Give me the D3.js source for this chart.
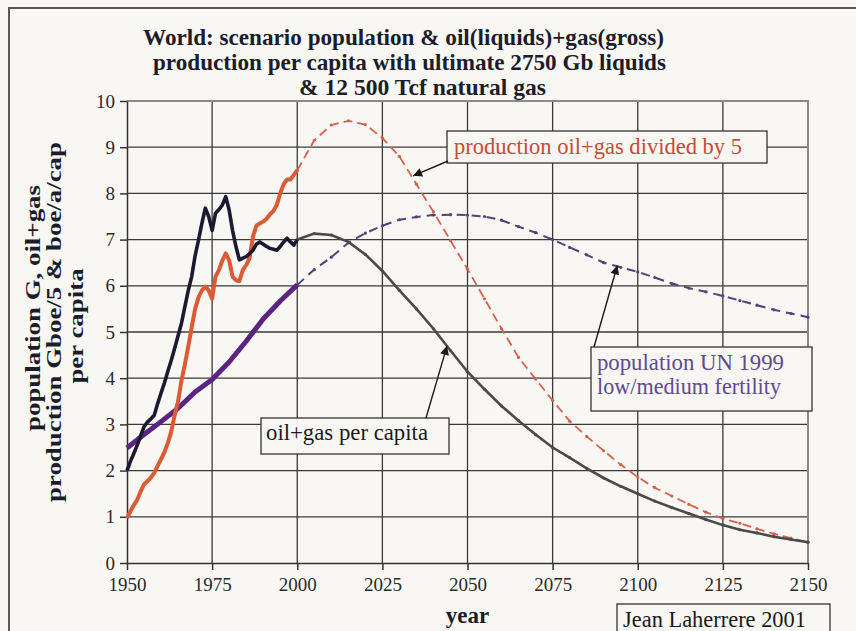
<!DOCTYPE html>
<html>
<head>
<meta charset="utf-8">
<script src="https://cdn.jsdelivr.net/npm/d3@7"></script>
<style>
  html, body { margin: 0; padding: 0; background: #f8f6f3; }
  svg { display: block; }
  text { font-family: "Liberation Serif", "Times New Roman", serif; }
  .grid line { stroke: #3a3a3a; stroke-width: 1.3; }
  .axis path, .axis line { stroke: #333; stroke-width: 1.5; }
  .axis text { fill: #2a2a2a; font-size: 19px; }
  .title { font-weight: bold; font-size: 24px; fill: #1c1c2a; }
  .ylabel { font-weight: bold; font-size: 22px; fill: #1c1c2a; }
  .note { font-size: 23px; }
  .box { fill: #f8f6f3; stroke: #333; stroke-width: 1.3; }
</style>
</head>
<body>
<div id="chart"></div>
<script>
// ---- data ----
const xTicks = [1950, 1975, 2000, 2025, 2050, 2075, 2100, 2125, 2150];
const yTicks = [0, 1, 2, 3, 4, 5, 6, 7, 8, 9, 10];

const histYears = d3.range(1950, 2001);
// oil+gas per capita (boe/a/cap), 1950-2000
const perCapitaHist = [2.0, 2.2, 2.37, 2.55, 2.75, 2.95, 3.05, 3.12, 3.2, 3.45,
  3.68, 3.9, 4.15, 4.39, 4.65, 4.92, 5.19, 5.55, 5.9, 6.2,
  6.65, 6.99, 7.35, 7.68, 7.5, 7.2, 7.57, 7.65, 7.75, 7.93,
  7.64, 7.2, 6.85, 6.56, 6.6, 6.63, 6.7, 6.77, 6.9, 6.95,
  6.9, 6.85, 6.81, 6.79, 6.77, 6.85, 6.95, 7.03, 6.95, 6.88, 7.0];
// production oil+gas / 5 (Gboe), 1950-2000
const productionHist = [0.97, 1.12, 1.25, 1.37, 1.55, 1.7, 1.77, 1.85, 1.95, 2.1,
  2.25, 2.4, 2.6, 2.85, 3.2, 3.5, 3.95, 4.3, 4.69, 5.1,
  5.5, 5.75, 5.9, 5.98, 5.9, 5.72, 6.2, 6.34, 6.55, 6.7,
  6.55, 6.2, 6.12, 6.1, 6.34, 6.45, 6.6, 7.07, 7.3, 7.35,
  7.39, 7.45, 7.55, 7.62, 7.75, 8.0, 8.2, 8.3, 8.3, 8.4, 8.5];
const popYears = [1950, 1955, 1960, 1965, 1970, 1975, 1980, 1985, 1990, 1995, 2000];
const populationHist = [2.49, 2.78, 3.06, 3.35, 3.7, 3.97, 4.35, 4.8, 5.28, 5.67, 6.02];

const projYears = d3.range(2000, 2151, 5);
const perCapitaProj = [7.0, 7.13, 7.1, 6.95, 6.68, 6.32, 5.9, 5.5, 5.07, 4.6,
  4.14, 3.76, 3.4, 3.08, 2.78, 2.5, 2.28, 2.05, 1.84, 1.66,
  1.5, 1.34, 1.2, 1.07, 0.94, 0.82, 0.72, 0.65, 0.57, 0.51, 0.45];
const productionProj = [8.5, 9.15, 9.48, 9.57, 9.49, 9.2, 8.8, 8.2, 7.6, 6.98,
  6.36, 5.72, 5.07, 4.45, 3.98, 3.52, 3.07, 2.74, 2.43, 2.13,
  1.86, 1.63, 1.45, 1.27, 1.1, 0.96, 0.86, 0.74, 0.63, 0.54, 0.45];
const populationProj = [6.02, 6.35, 6.62, 6.93, 7.14, 7.3, 7.43, 7.49, 7.53, 7.54,
  7.53, 7.5, 7.42, 7.28, 7.15, 7.0, 6.83, 6.67, 6.5, 6.4,
  6.3, 6.18, 6.05, 5.95, 5.87, 5.78, 5.68, 5.58, 5.48, 5.4, 5.32];

const titleLines = [
  "World: scenario population & oil(liquids)+gas(gross)",
  "production per capita with ultimate 2750 Gb liquids",
  "& 12 500 Tcf natural gas"
];
const yLabelLines = ["population G, oil+gas", "production Gboe/5 & boe/a/cap", "per capita"];

// ---- layout ----
const W = 856, H = 631;
const margin = {top: 101, right: 48, bottom: 68, left: 127};
const innerW = W - margin.left - margin.right;
const innerH = H - margin.top - margin.bottom;

const svg = d3.select("#chart").append("svg")
  .attr("width", W).attr("height", H);

// outer frame of the figure (runs off the right and bottom edges)
svg.append("rect")
  .attr("x", 9).attr("y", 8).attr("width", W + 10).attr("height", H + 10)
  .attr("fill", "#f9f7f4").attr("stroke", "#5a5a5a").attr("stroke-width", 2);

const x = d3.scaleLinear().domain([1950, 2150]).range([margin.left, margin.left + innerW]);
const y = d3.scaleLinear().domain([0, 10]).range([margin.top + innerH, margin.top]);

// grid
const grid = svg.append("g").attr("class", "grid");
grid.selectAll("line.v").data(xTicks.slice(1, -1)).enter().append("line")
  .attr("x1", d => x(d)).attr("x2", d => x(d))
  .attr("y1", y(0)).attr("y2", y(10));
grid.selectAll("line.h").data(yTicks.slice(1, -1)).enter().append("line")
  .attr("x1", x(1950)).attr("x2", x(2150))
  .attr("y1", d => y(d)).attr("y2", d => y(d));
// plot frame top / right (lighter)
svg.append("path")
  .attr("d", `M${x(1950)},${y(10)}H${x(2150)}V${y(0)}`)
  .attr("fill", "none").attr("stroke", "#8a8a8a").attr("stroke-width", 2);

// axes
svg.append("g").attr("class", "axis")
  .attr("transform", `translate(0,${y(0)})`)
  .call(d3.axisBottom(x).tickValues(xTicks).tickFormat(d3.format("d")).tickSize(7).tickSizeOuter(0).tickPadding(8));
svg.append("g").attr("class", "axis")
  .attr("transform", `translate(${x(1950)},0)`)
  .call(d3.axisLeft(y).tickValues(yTicks).tickSize(7).tickSizeOuter(0).tickPadding(5));
svg.selectAll(".axis").attr("font-family", null).attr("font-size", null);

// series
const line = d3.line().x(d => x(d[0])).y(d => y(d[1]));
const zip = (xs, ys) => xs.map((v, i) => [v, ys[i]]);

const proj = [
  {data: zip(projYears, productionProj), color: "#d5604c", width: 1.8, dash: "9,5"},
  {data: zip(projYears, populationProj), color: "#56407a", width: 2, dash: "9,6"},
  {data: zip(projYears, perCapitaProj), color: "#4a4a4a", width: 2.6, dash: null}
];
proj.forEach(s => {
  svg.append("path").datum(s.data)
    .attr("d", line).attr("fill", "none")
    .attr("stroke", s.color).attr("stroke-width", s.width)
    .attr("stroke-dasharray", s.dash);
  svg.append("g").selectAll("circle").data(s.data).enter().append("circle")
    .attr("cx", d => x(d[0])).attr("cy", d => y(d[1])).attr("r", 1.6)
    .attr("fill", s.color);
});

const hist = [
  {data: zip(popYears, populationHist), color: "#5b2480", width: 5},
  {data: zip(histYears, productionHist), color: "#dc5a34", width: 4},
  {data: zip(histYears, perCapitaHist), color: "#1b1a30", width: 3.6}
];
hist.forEach(s => {
  svg.append("path").datum(s.data)
    .attr("d", line).attr("fill", "none")
    .attr("stroke", s.color).attr("stroke-width", s.width)
    .attr("stroke-linejoin", "round");
});

// title (left edge, baseline, width measured on the picture)
const titlePos = [[143, 45, 521], [153, 70, 513], [299, 95, 247]];
svg.append("g").selectAll("text").data(titleLines).enter().append("text")
  .attr("class", "title")
  .attr("x", (d, i) => titlePos[i][0]).attr("y", (d, i) => titlePos[i][1])
  .attr("textLength", (d, i) => titlePos[i][2])
  .attr("lengthAdjust", "spacingAndGlyphs")
  .text(d => d);

// y axis label: one common stretch along the text so the middle line spans ~360px
const yLabelPos = [[40, 308], [61, 322], [83, 326]];   // [baseline x, centre y]
const yl = svg.append("g");
const yTexts = yLabelLines.map((t, i) => yl.append("g")
  .attr("transform", `translate(${yLabelPos[i][0]},${yLabelPos[i][1]}) rotate(-90)`)
  .append("text").attr("class", "ylabel").attr("text-anchor", "middle").text(t));
const stretch = 360 / yTexts[1].node().getComputedTextLength();
yTexts.forEach(t => t.attr("transform", `scale(${stretch},1)`));

// x axis label
svg.append("text").attr("class", "title").style("font-size", "23px")
  .attr("x", x(2050)).attr("y", 623).attr("text-anchor", "middle").text("year");

// arrowhead
svg.append("defs").append("marker")
  .attr("id", "arrow").attr("viewBox", "0 -5 10 10")
  .attr("refX", 10).attr("refY", 0)
  .attr("markerWidth", 10).attr("markerHeight", 9)
  .attr("markerUnits", "userSpaceOnUse")
  .attr("orient", "auto")
  .append("path").attr("d", "M0,-5L10,0L0,5Z").attr("fill", "#1a1a1a");

// box: [x, y, w, h]; lines: [text, x, baseline, width]
function note(box, lines, color, from, to) {
  svg.append("rect").attr("class", "box")
    .attr("x", box[0]).attr("y", box[1]).attr("width", box[2]).attr("height", box[3]);
  lines.forEach(l => {
    svg.append("text").attr("class", "note").attr("fill", color)
      .attr("x", l[1]).attr("y", l[2])
      .attr("textLength", l[3]).attr("lengthAdjust", "spacingAndGlyphs")
      .text(l[0]);
  });
  if (from) {
    svg.append("line")
      .attr("x1", from[0]).attr("y1", from[1]).attr("x2", to[0]).attr("y2", to[1])
      .attr("stroke", "#1a1a1a").attr("stroke-width", 1.4)
      .attr("marker-end", "url(#arrow)");
  }
}

note([447, 131, 320, 32], [["production oil+gas divided by 5", 454, 154, 288]], "#c94a38",
  [448, 161], [x(2034), y(8.38)]);
note([591, 347, 221, 64], [["population UN 1999", 597, 370, 187], ["low/medium fertility", 597, 394, 184]], "#5e4a92",
  [594, 347], [x(2094), y(6.44)]);
note([261, 418, 188, 36], [["oil+gas per capita", 266, 440, 162]], "#1a1a1a",
  [426, 418], [x(2044), y(4.7)]);
note([617, 604, 213, 40], [["Jean Laherrere 2001", 623, 627, 183]], "#1a1a1a");
</script>
</body>
</html>
